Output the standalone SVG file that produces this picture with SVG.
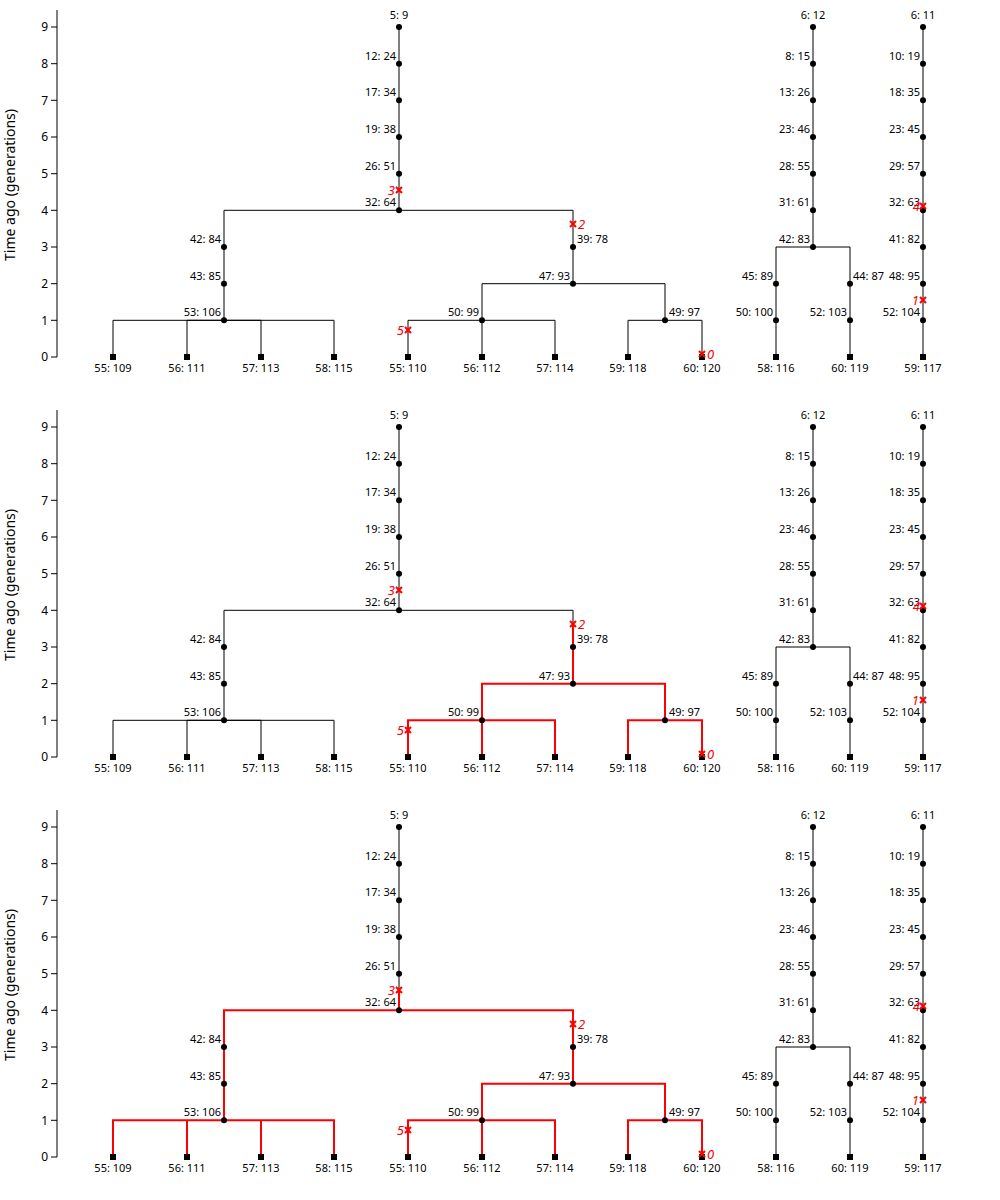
<svg xmlns="http://www.w3.org/2000/svg" width="1000" height="1200" viewBox="0 0 1000 1200">
<defs>
<style>
text{font-family:"Noto Sans","DejaVu Sans",sans-serif;fill:#000}
.edge{fill:none;stroke:#000;stroke-width:1}
.hl{fill:none;stroke:#ff0000;stroke-width:2}
.axis{fill:none;stroke:#000;stroke-width:1}
.tl{font-size:12px;text-anchor:end}
.title{font-size:14px;text-anchor:middle}
.n text{font-size:11px}
.lt{text-anchor:middle}
.lb{text-anchor:middle}
.ll{text-anchor:end}
.lr{text-anchor:start}
.mut text{font-size:13px;font-style:italic;fill:#ff0000}
.me{text-anchor:end}
</style>
<circle id="dot" r="3" fill="#000"/>
<rect id="sq" x="-3" y="-3" width="6" height="6" fill="#000"/>
<path id="x" d="M-3,-3L3,3M-3,3L3,-3" fill="none" stroke="#ff0000" stroke-width="2"/>
</defs>
<rect width="1000" height="1200" fill="#fff"/>

<!-- ================= PANEL 1 ================= -->
<g id="panel1">
<g id="p1-axis">
<path class="axis" d="M57,10V357M51,357H57M51,320.3H57M51,283.7H57M51,247H57M51,210.3H57M51,173.7H57M51,137H57M51,100.3H57M51,63.7H57M51,27H57"/>
<text class="tl" x="48" y="361.3">0</text><text class="tl" x="48" y="324.6">1</text><text class="tl" x="48" y="288">2</text><text class="tl" x="48" y="251.3">3</text><text class="tl" x="48" y="214.6">4</text><text class="tl" x="48" y="178">5</text><text class="tl" x="48" y="141.3">6</text><text class="tl" x="48" y="104.6">7</text><text class="tl" x="48" y="68">8</text><text class="tl" x="48" y="31.3">9</text>
<text class="title" transform="translate(15,185) rotate(-90)">Time ago (generations)</text>
</g>
<g id="p1-edges">
<path class="edge" d="M399,63.7V27M399,100.3V63.7M399,137V100.3M399,173.7V137M399,210.3V173.7"/>
<path class="edge" d="M224,247V210.3H399M573,247V210.3H399"/>
<path class="edge" d="M224,283.7V247M224,320.3V283.7"/>
<path class="edge" d="M113,357V320.3H224M187,357V320.3H224M261,357V320.3H224M334,357V320.3H224"/>
<path class="edge" d="M573,283.7V247M482,320.3V283.7H573M665,320.3V283.7H573"/>
<path class="edge" d="M408,357V320.3H482M482,357V320.3M555,357V320.3H482M628,357V320.3H665M702,357V320.3H665"/>
<path class="edge" d="M813,247V27M776,283.7V247H813M850,283.7V247H813M776,357V283.7M850,357V283.7"/>
<path class="edge" d="M923,357V27"/>
</g>
<g id="p1-nodes" class="n">
<g id="p1-n5_9" transform="translate(399,27)"><use href="#dot"/><text class="lt" y="-8">5: 9</text></g>
<g id="p1-n12_24" transform="translate(399,63.7)"><use href="#dot"/><text class="ll" x="-3" y="-4">12: 24</text></g>
<g id="p1-n17_34" transform="translate(399,100.3)"><use href="#dot"/><text class="ll" x="-3" y="-4">17: 34</text></g>
<g id="p1-n19_38" transform="translate(399,137)"><use href="#dot"/><text class="ll" x="-3" y="-4">19: 38</text></g>
<g id="p1-n26_51" transform="translate(399,173.7)"><use href="#dot"/><text class="ll" x="-3" y="-4">26: 51</text></g>
<g id="p1-n32_64" transform="translate(399,210.3)"><use href="#dot"/><text class="ll" x="-3" y="-4">32: 64</text></g>
<g id="p1-n42_84" transform="translate(224,247)"><use href="#dot"/><text class="ll" x="-3" y="-4">42: 84</text></g>
<g id="p1-n43_85" transform="translate(224,283.7)"><use href="#dot"/><text class="ll" x="-3" y="-4">43: 85</text></g>
<g id="p1-n53_106" transform="translate(224,320.3)"><use href="#dot"/><text class="ll" x="-3" y="-4">53: 106</text></g>
<g id="p1-n55_109" transform="translate(113,357)"><use href="#sq"/><text class="lb" y="15">55: 109</text></g>
<g id="p1-n56_111" transform="translate(187,357)"><use href="#sq"/><text class="lb" y="15">56: 111</text></g>
<g id="p1-n57_113" transform="translate(261,357)"><use href="#sq"/><text class="lb" y="15">57: 113</text></g>
<g id="p1-n58_115" transform="translate(334,357)"><use href="#sq"/><text class="lb" y="15">58: 115</text></g>
<g id="p1-n39_78" transform="translate(573,247)"><use href="#dot"/><text class="lr" x="4" y="-4">39: 78</text></g>
<g id="p1-n47_93" transform="translate(573,283.7)"><use href="#dot"/><text class="ll" x="-3" y="-4">47: 93</text></g>
<g id="p1-n50_99" transform="translate(482,320.3)"><use href="#dot"/><text class="ll" x="-3" y="-4">50: 99</text></g>
<g id="p1-n49_97" transform="translate(665,320.3)"><use href="#dot"/><text class="lr" x="4" y="-4">49: 97</text></g>
<g id="p1-n55_110" transform="translate(408,357)"><use href="#sq"/><text class="lb" y="15">55: 110</text></g>
<g id="p1-n56_112" transform="translate(482,357)"><use href="#sq"/><text class="lb" y="15">56: 112</text></g>
<g id="p1-n57_114" transform="translate(555,357)"><use href="#sq"/><text class="lb" y="15">57: 114</text></g>
<g id="p1-n59_118" transform="translate(628,357)"><use href="#sq"/><text class="lb" y="15">59: 118</text></g>
<g id="p1-n60_120" transform="translate(702,357)"><use href="#sq"/><text class="lb" y="15">60: 120</text></g>
<g id="p1-n6_12" transform="translate(813,27)"><use href="#dot"/><text class="lt" y="-8">6: 12</text></g>
<g id="p1-n8_15" transform="translate(813,63.7)"><use href="#dot"/><text class="ll" x="-3" y="-4">8: 15</text></g>
<g id="p1-n13_26" transform="translate(813,100.3)"><use href="#dot"/><text class="ll" x="-3" y="-4">13: 26</text></g>
<g id="p1-n23_46" transform="translate(813,137)"><use href="#dot"/><text class="ll" x="-3" y="-4">23: 46</text></g>
<g id="p1-n28_55" transform="translate(813,173.7)"><use href="#dot"/><text class="ll" x="-3" y="-4">28: 55</text></g>
<g id="p1-n31_61" transform="translate(813,210.3)"><use href="#dot"/><text class="ll" x="-3" y="-4">31: 61</text></g>
<g id="p1-n42_83" transform="translate(813,247)"><use href="#dot"/><text class="ll" x="-3" y="-4">42: 83</text></g>
<g id="p1-n45_89" transform="translate(776,283.7)"><use href="#dot"/><text class="ll" x="-3" y="-4">45: 89</text></g>
<g id="p1-n50_100" transform="translate(776,320.3)"><use href="#dot"/><text class="ll" x="-3" y="-4">50: 100</text></g>
<g id="p1-n58_116" transform="translate(776,357)"><use href="#sq"/><text class="lb" y="15">58: 116</text></g>
<g id="p1-n44_87" transform="translate(850,283.7)"><use href="#dot"/><text class="lr" x="3" y="-4">44: 87</text></g>
<g id="p1-n52_103" transform="translate(850,320.3)"><use href="#dot"/><text class="ll" x="-3" y="-4">52: 103</text></g>
<g id="p1-n60_119" transform="translate(850,357)"><use href="#sq"/><text class="lb" y="15">60: 119</text></g>
<g id="p1-n6_11" transform="translate(923,27)"><use href="#dot"/><text class="lt" y="-8">6: 11</text></g>
<g id="p1-n10_19" transform="translate(923,63.7)"><use href="#dot"/><text class="ll" x="-3" y="-4">10: 19</text></g>
<g id="p1-n18_35" transform="translate(923,100.3)"><use href="#dot"/><text class="ll" x="-3" y="-4">18: 35</text></g>
<g id="p1-n23_45" transform="translate(923,137)"><use href="#dot"/><text class="ll" x="-3" y="-4">23: 45</text></g>
<g id="p1-n29_57" transform="translate(923,173.7)"><use href="#dot"/><text class="ll" x="-3" y="-4">29: 57</text></g>
<g id="p1-n32_63" transform="translate(923,210.3)"><use href="#dot"/><text class="ll" x="-3" y="-4">32: 63</text></g>
<g id="p1-n41_82" transform="translate(923,247)"><use href="#dot"/><text class="ll" x="-3" y="-4">41: 82</text></g>
<g id="p1-n48_95" transform="translate(923,283.7)"><use href="#dot"/><text class="ll" x="-3" y="-4">48: 95</text></g>
<g id="p1-n52_104" transform="translate(923,320.3)"><use href="#dot"/><text class="ll" x="-3" y="-4">52: 104</text></g>
<g id="p1-n59_117" transform="translate(923,357)"><use href="#sq"/><text class="lb" y="15">59: 117</text></g>
</g>
<g id="p1-mutations" class="mut">
<g id="p1-m3" transform="translate(399,190)"><use href="#x"/><text class="me" x="-4" y="4.5">3</text></g>
<g id="p1-m2" transform="translate(573,224)"><use href="#x"/><text x="5" y="4.5">2</text></g>
<g id="p1-m5" transform="translate(408,330)"><use href="#x"/><text class="me" x="-4" y="4.5">5</text></g>
<g id="p1-m0" transform="translate(702,354)"><use href="#x"/><text x="5" y="4.5">0</text></g>
<g id="p1-m4" transform="translate(923,206)"><use href="#x"/><text class="me" x="-3" y="4.5">4</text></g>
<g id="p1-m1" transform="translate(923,300)"><use href="#x"/><text class="me" x="-4" y="4.5">1</text></g>
</g>
</g>

<!-- ================= PANEL 2 ================= -->
<g id="panel2" transform="translate(0,400)">
<g id="p2-axis">
<path class="axis" d="M57,10V357M51,357H57M51,320.3H57M51,283.7H57M51,247H57M51,210.3H57M51,173.7H57M51,137H57M51,100.3H57M51,63.7H57M51,27H57"/>
<text class="tl" x="48" y="361.3">0</text><text class="tl" x="48" y="324.6">1</text><text class="tl" x="48" y="288">2</text><text class="tl" x="48" y="251.3">3</text><text class="tl" x="48" y="214.6">4</text><text class="tl" x="48" y="178">5</text><text class="tl" x="48" y="141.3">6</text><text class="tl" x="48" y="104.6">7</text><text class="tl" x="48" y="68">8</text><text class="tl" x="48" y="31.3">9</text>
<text class="title" transform="translate(15,185) rotate(-90)">Time ago (generations)</text>
</g>
<g id="p2-edges">
<path class="edge" d="M399,63.7V27M399,100.3V63.7M399,137V100.3M399,173.7V137M399,210.3V173.7"/>
<path class="edge" d="M224,247V210.3H399M573,224V210.3H399"/>
<path class="edge" d="M224,283.7V247M224,320.3V283.7"/>
<path class="edge" d="M113,357V320.3H224M187,357V320.3H224M261,357V320.3H224M334,357V320.3H224"/>
<path class="edge" d="M813,247V27M776,283.7V247H813M850,283.7V247H813M776,357V283.7M850,357V283.7"/>
<path class="edge" d="M923,357V27"/>
<path class="hl" d="M573,224V283.7M482,320.3V283.7H573M665,320.3V283.7H573"/>
<path class="hl" d="M408,357V320.3H482M482,357V320.3M555,357V320.3H482M628,357V320.3H665M702,357V320.3H665"/>
</g>
<g id="p2-nodes" class="n">
<g id="p2-n5_9" transform="translate(399,27)"><use href="#dot"/><text class="lt" y="-8">5: 9</text></g>
<g id="p2-n12_24" transform="translate(399,63.7)"><use href="#dot"/><text class="ll" x="-3" y="-4">12: 24</text></g>
<g id="p2-n17_34" transform="translate(399,100.3)"><use href="#dot"/><text class="ll" x="-3" y="-4">17: 34</text></g>
<g id="p2-n19_38" transform="translate(399,137)"><use href="#dot"/><text class="ll" x="-3" y="-4">19: 38</text></g>
<g id="p2-n26_51" transform="translate(399,173.7)"><use href="#dot"/><text class="ll" x="-3" y="-4">26: 51</text></g>
<g id="p2-n32_64" transform="translate(399,210.3)"><use href="#dot"/><text class="ll" x="-3" y="-4">32: 64</text></g>
<g id="p2-n42_84" transform="translate(224,247)"><use href="#dot"/><text class="ll" x="-3" y="-4">42: 84</text></g>
<g id="p2-n43_85" transform="translate(224,283.7)"><use href="#dot"/><text class="ll" x="-3" y="-4">43: 85</text></g>
<g id="p2-n53_106" transform="translate(224,320.3)"><use href="#dot"/><text class="ll" x="-3" y="-4">53: 106</text></g>
<g id="p2-n55_109" transform="translate(113,357)"><use href="#sq"/><text class="lb" y="15">55: 109</text></g>
<g id="p2-n56_111" transform="translate(187,357)"><use href="#sq"/><text class="lb" y="15">56: 111</text></g>
<g id="p2-n57_113" transform="translate(261,357)"><use href="#sq"/><text class="lb" y="15">57: 113</text></g>
<g id="p2-n58_115" transform="translate(334,357)"><use href="#sq"/><text class="lb" y="15">58: 115</text></g>
<g id="p2-n39_78" transform="translate(573,247)"><use href="#dot"/><text class="lr" x="4" y="-4">39: 78</text></g>
<g id="p2-n47_93" transform="translate(573,283.7)"><use href="#dot"/><text class="ll" x="-3" y="-4">47: 93</text></g>
<g id="p2-n50_99" transform="translate(482,320.3)"><use href="#dot"/><text class="ll" x="-3" y="-4">50: 99</text></g>
<g id="p2-n49_97" transform="translate(665,320.3)"><use href="#dot"/><text class="lr" x="4" y="-4">49: 97</text></g>
<g id="p2-n55_110" transform="translate(408,357)"><use href="#sq"/><text class="lb" y="15">55: 110</text></g>
<g id="p2-n56_112" transform="translate(482,357)"><use href="#sq"/><text class="lb" y="15">56: 112</text></g>
<g id="p2-n57_114" transform="translate(555,357)"><use href="#sq"/><text class="lb" y="15">57: 114</text></g>
<g id="p2-n59_118" transform="translate(628,357)"><use href="#sq"/><text class="lb" y="15">59: 118</text></g>
<g id="p2-n60_120" transform="translate(702,357)"><use href="#sq"/><text class="lb" y="15">60: 120</text></g>
<g id="p2-n6_12" transform="translate(813,27)"><use href="#dot"/><text class="lt" y="-8">6: 12</text></g>
<g id="p2-n8_15" transform="translate(813,63.7)"><use href="#dot"/><text class="ll" x="-3" y="-4">8: 15</text></g>
<g id="p2-n13_26" transform="translate(813,100.3)"><use href="#dot"/><text class="ll" x="-3" y="-4">13: 26</text></g>
<g id="p2-n23_46" transform="translate(813,137)"><use href="#dot"/><text class="ll" x="-3" y="-4">23: 46</text></g>
<g id="p2-n28_55" transform="translate(813,173.7)"><use href="#dot"/><text class="ll" x="-3" y="-4">28: 55</text></g>
<g id="p2-n31_61" transform="translate(813,210.3)"><use href="#dot"/><text class="ll" x="-3" y="-4">31: 61</text></g>
<g id="p2-n42_83" transform="translate(813,247)"><use href="#dot"/><text class="ll" x="-3" y="-4">42: 83</text></g>
<g id="p2-n45_89" transform="translate(776,283.7)"><use href="#dot"/><text class="ll" x="-3" y="-4">45: 89</text></g>
<g id="p2-n50_100" transform="translate(776,320.3)"><use href="#dot"/><text class="ll" x="-3" y="-4">50: 100</text></g>
<g id="p2-n58_116" transform="translate(776,357)"><use href="#sq"/><text class="lb" y="15">58: 116</text></g>
<g id="p2-n44_87" transform="translate(850,283.7)"><use href="#dot"/><text class="lr" x="3" y="-4">44: 87</text></g>
<g id="p2-n52_103" transform="translate(850,320.3)"><use href="#dot"/><text class="ll" x="-3" y="-4">52: 103</text></g>
<g id="p2-n60_119" transform="translate(850,357)"><use href="#sq"/><text class="lb" y="15">60: 119</text></g>
<g id="p2-n6_11" transform="translate(923,27)"><use href="#dot"/><text class="lt" y="-8">6: 11</text></g>
<g id="p2-n10_19" transform="translate(923,63.7)"><use href="#dot"/><text class="ll" x="-3" y="-4">10: 19</text></g>
<g id="p2-n18_35" transform="translate(923,100.3)"><use href="#dot"/><text class="ll" x="-3" y="-4">18: 35</text></g>
<g id="p2-n23_45" transform="translate(923,137)"><use href="#dot"/><text class="ll" x="-3" y="-4">23: 45</text></g>
<g id="p2-n29_57" transform="translate(923,173.7)"><use href="#dot"/><text class="ll" x="-3" y="-4">29: 57</text></g>
<g id="p2-n32_63" transform="translate(923,210.3)"><use href="#dot"/><text class="ll" x="-3" y="-4">32: 63</text></g>
<g id="p2-n41_82" transform="translate(923,247)"><use href="#dot"/><text class="ll" x="-3" y="-4">41: 82</text></g>
<g id="p2-n48_95" transform="translate(923,283.7)"><use href="#dot"/><text class="ll" x="-3" y="-4">48: 95</text></g>
<g id="p2-n52_104" transform="translate(923,320.3)"><use href="#dot"/><text class="ll" x="-3" y="-4">52: 104</text></g>
<g id="p2-n59_117" transform="translate(923,357)"><use href="#sq"/><text class="lb" y="15">59: 117</text></g>
</g>
<g id="p2-mutations" class="mut">
<g id="p2-m3" transform="translate(399,190)"><use href="#x"/><text class="me" x="-4" y="4.5">3</text></g>
<g id="p2-m2" transform="translate(573,224)"><use href="#x"/><text x="5" y="4.5">2</text></g>
<g id="p2-m5" transform="translate(408,330)"><use href="#x"/><text class="me" x="-4" y="4.5">5</text></g>
<g id="p2-m0" transform="translate(702,354)"><use href="#x"/><text x="5" y="4.5">0</text></g>
<g id="p2-m4" transform="translate(923,206)"><use href="#x"/><text class="me" x="-3" y="4.5">4</text></g>
<g id="p2-m1" transform="translate(923,300)"><use href="#x"/><text class="me" x="-4" y="4.5">1</text></g>
</g>
</g>

<!-- ================= PANEL 3 ================= -->
<g id="panel3" transform="translate(0,800)">
<g id="p3-axis">
<path class="axis" d="M57,10V357M51,357H57M51,320.3H57M51,283.7H57M51,247H57M51,210.3H57M51,173.7H57M51,137H57M51,100.3H57M51,63.7H57M51,27H57"/>
<text class="tl" x="48" y="361.3">0</text><text class="tl" x="48" y="324.6">1</text><text class="tl" x="48" y="288">2</text><text class="tl" x="48" y="251.3">3</text><text class="tl" x="48" y="214.6">4</text><text class="tl" x="48" y="178">5</text><text class="tl" x="48" y="141.3">6</text><text class="tl" x="48" y="104.6">7</text><text class="tl" x="48" y="68">8</text><text class="tl" x="48" y="31.3">9</text>
<text class="title" transform="translate(15,185) rotate(-90)">Time ago (generations)</text>
</g>
<g id="p3-edges">
<path class="edge" d="M399,63.7V27M399,100.3V63.7M399,137V100.3M399,173.7V137M399,190V173.7"/>
<path class="edge" d="M813,247V27M776,283.7V247H813M850,283.7V247H813M776,357V283.7M850,357V283.7"/>
<path class="edge" d="M923,357V27"/>
<path class="hl" d="M399,190V210.3M224,247V210.3H399M573,247V210.3H399"/>
<path class="hl" d="M224,283.7V247M224,320.3V283.7"/>
<path class="hl" d="M113,357V320.3H224M187,357V320.3H224M261,357V320.3H224M334,357V320.3H224"/>
<path class="hl" d="M573,283.7V247M482,320.3V283.7H573M665,320.3V283.7H573"/>
<path class="hl" d="M408,357V320.3H482M482,357V320.3M555,357V320.3H482M628,357V320.3H665M702,357V320.3H665"/>
</g>
<g id="p3-nodes" class="n">
<g id="p3-n5_9" transform="translate(399,27)"><use href="#dot"/><text class="lt" y="-8">5: 9</text></g>
<g id="p3-n12_24" transform="translate(399,63.7)"><use href="#dot"/><text class="ll" x="-3" y="-4">12: 24</text></g>
<g id="p3-n17_34" transform="translate(399,100.3)"><use href="#dot"/><text class="ll" x="-3" y="-4">17: 34</text></g>
<g id="p3-n19_38" transform="translate(399,137)"><use href="#dot"/><text class="ll" x="-3" y="-4">19: 38</text></g>
<g id="p3-n26_51" transform="translate(399,173.7)"><use href="#dot"/><text class="ll" x="-3" y="-4">26: 51</text></g>
<g id="p3-n32_64" transform="translate(399,210.3)"><use href="#dot"/><text class="ll" x="-3" y="-4">32: 64</text></g>
<g id="p3-n42_84" transform="translate(224,247)"><use href="#dot"/><text class="ll" x="-3" y="-4">42: 84</text></g>
<g id="p3-n43_85" transform="translate(224,283.7)"><use href="#dot"/><text class="ll" x="-3" y="-4">43: 85</text></g>
<g id="p3-n53_106" transform="translate(224,320.3)"><use href="#dot"/><text class="ll" x="-3" y="-4">53: 106</text></g>
<g id="p3-n55_109" transform="translate(113,357)"><use href="#sq"/><text class="lb" y="15">55: 109</text></g>
<g id="p3-n56_111" transform="translate(187,357)"><use href="#sq"/><text class="lb" y="15">56: 111</text></g>
<g id="p3-n57_113" transform="translate(261,357)"><use href="#sq"/><text class="lb" y="15">57: 113</text></g>
<g id="p3-n58_115" transform="translate(334,357)"><use href="#sq"/><text class="lb" y="15">58: 115</text></g>
<g id="p3-n39_78" transform="translate(573,247)"><use href="#dot"/><text class="lr" x="4" y="-4">39: 78</text></g>
<g id="p3-n47_93" transform="translate(573,283.7)"><use href="#dot"/><text class="ll" x="-3" y="-4">47: 93</text></g>
<g id="p3-n50_99" transform="translate(482,320.3)"><use href="#dot"/><text class="ll" x="-3" y="-4">50: 99</text></g>
<g id="p3-n49_97" transform="translate(665,320.3)"><use href="#dot"/><text class="lr" x="4" y="-4">49: 97</text></g>
<g id="p3-n55_110" transform="translate(408,357)"><use href="#sq"/><text class="lb" y="15">55: 110</text></g>
<g id="p3-n56_112" transform="translate(482,357)"><use href="#sq"/><text class="lb" y="15">56: 112</text></g>
<g id="p3-n57_114" transform="translate(555,357)"><use href="#sq"/><text class="lb" y="15">57: 114</text></g>
<g id="p3-n59_118" transform="translate(628,357)"><use href="#sq"/><text class="lb" y="15">59: 118</text></g>
<g id="p3-n60_120" transform="translate(702,357)"><use href="#sq"/><text class="lb" y="15">60: 120</text></g>
<g id="p3-n6_12" transform="translate(813,27)"><use href="#dot"/><text class="lt" y="-8">6: 12</text></g>
<g id="p3-n8_15" transform="translate(813,63.7)"><use href="#dot"/><text class="ll" x="-3" y="-4">8: 15</text></g>
<g id="p3-n13_26" transform="translate(813,100.3)"><use href="#dot"/><text class="ll" x="-3" y="-4">13: 26</text></g>
<g id="p3-n23_46" transform="translate(813,137)"><use href="#dot"/><text class="ll" x="-3" y="-4">23: 46</text></g>
<g id="p3-n28_55" transform="translate(813,173.7)"><use href="#dot"/><text class="ll" x="-3" y="-4">28: 55</text></g>
<g id="p3-n31_61" transform="translate(813,210.3)"><use href="#dot"/><text class="ll" x="-3" y="-4">31: 61</text></g>
<g id="p3-n42_83" transform="translate(813,247)"><use href="#dot"/><text class="ll" x="-3" y="-4">42: 83</text></g>
<g id="p3-n45_89" transform="translate(776,283.7)"><use href="#dot"/><text class="ll" x="-3" y="-4">45: 89</text></g>
<g id="p3-n50_100" transform="translate(776,320.3)"><use href="#dot"/><text class="ll" x="-3" y="-4">50: 100</text></g>
<g id="p3-n58_116" transform="translate(776,357)"><use href="#sq"/><text class="lb" y="15">58: 116</text></g>
<g id="p3-n44_87" transform="translate(850,283.7)"><use href="#dot"/><text class="lr" x="3" y="-4">44: 87</text></g>
<g id="p3-n52_103" transform="translate(850,320.3)"><use href="#dot"/><text class="ll" x="-3" y="-4">52: 103</text></g>
<g id="p3-n60_119" transform="translate(850,357)"><use href="#sq"/><text class="lb" y="15">60: 119</text></g>
<g id="p3-n6_11" transform="translate(923,27)"><use href="#dot"/><text class="lt" y="-8">6: 11</text></g>
<g id="p3-n10_19" transform="translate(923,63.7)"><use href="#dot"/><text class="ll" x="-3" y="-4">10: 19</text></g>
<g id="p3-n18_35" transform="translate(923,100.3)"><use href="#dot"/><text class="ll" x="-3" y="-4">18: 35</text></g>
<g id="p3-n23_45" transform="translate(923,137)"><use href="#dot"/><text class="ll" x="-3" y="-4">23: 45</text></g>
<g id="p3-n29_57" transform="translate(923,173.7)"><use href="#dot"/><text class="ll" x="-3" y="-4">29: 57</text></g>
<g id="p3-n32_63" transform="translate(923,210.3)"><use href="#dot"/><text class="ll" x="-3" y="-4">32: 63</text></g>
<g id="p3-n41_82" transform="translate(923,247)"><use href="#dot"/><text class="ll" x="-3" y="-4">41: 82</text></g>
<g id="p3-n48_95" transform="translate(923,283.7)"><use href="#dot"/><text class="ll" x="-3" y="-4">48: 95</text></g>
<g id="p3-n52_104" transform="translate(923,320.3)"><use href="#dot"/><text class="ll" x="-3" y="-4">52: 104</text></g>
<g id="p3-n59_117" transform="translate(923,357)"><use href="#sq"/><text class="lb" y="15">59: 117</text></g>
</g>
<g id="p3-mutations" class="mut">
<g id="p3-m3" transform="translate(399,190)"><use href="#x"/><text class="me" x="-4" y="4.5">3</text></g>
<g id="p3-m2" transform="translate(573,224)"><use href="#x"/><text x="5" y="4.5">2</text></g>
<g id="p3-m5" transform="translate(408,330)"><use href="#x"/><text class="me" x="-4" y="4.5">5</text></g>
<g id="p3-m0" transform="translate(702,354)"><use href="#x"/><text x="5" y="4.5">0</text></g>
<g id="p3-m4" transform="translate(923,206)"><use href="#x"/><text class="me" x="-3" y="4.5">4</text></g>
<g id="p3-m1" transform="translate(923,300)"><use href="#x"/><text class="me" x="-4" y="4.5">1</text></g>
</g>
</g>
</svg>
